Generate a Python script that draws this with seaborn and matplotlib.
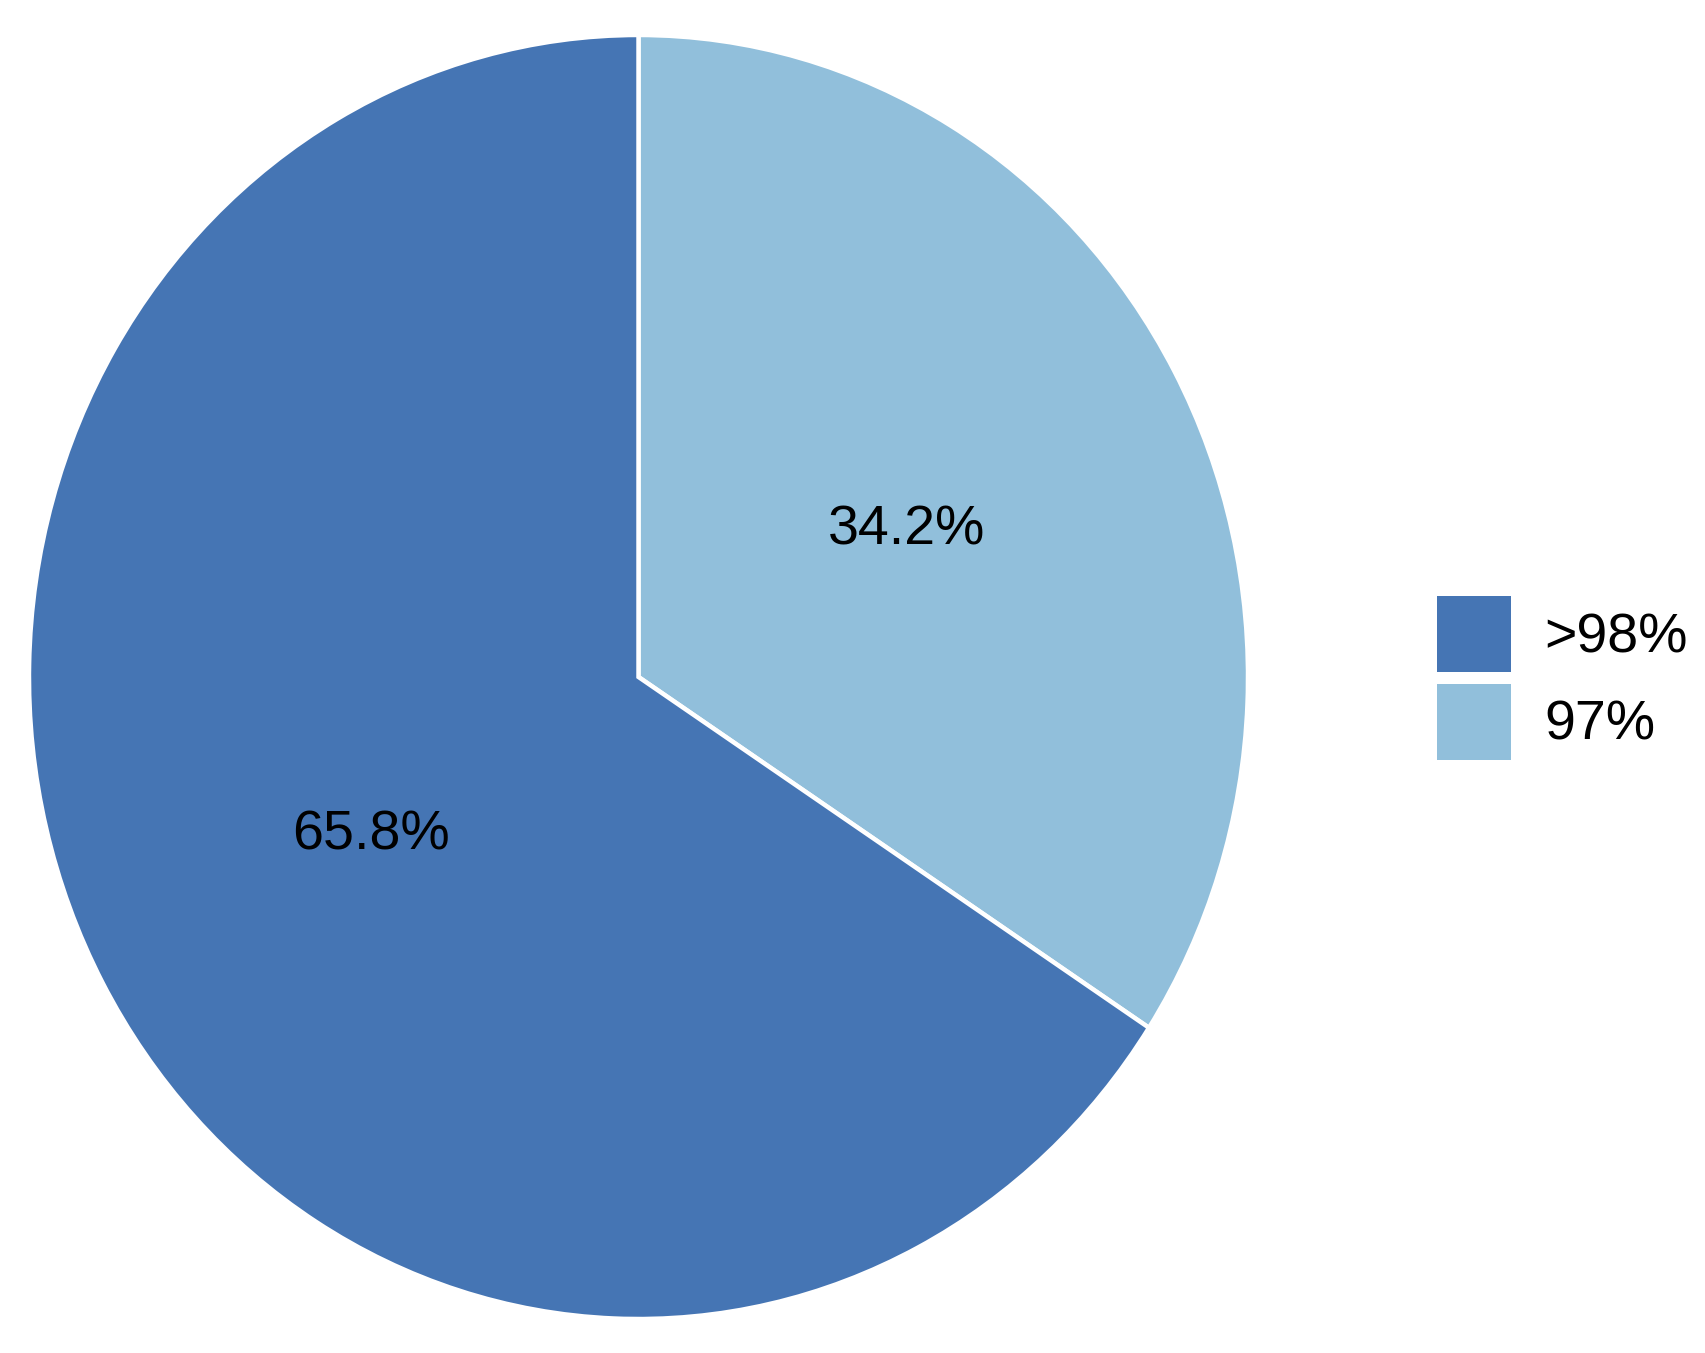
import seaborn as sns
import matplotlib.pyplot as plt
from matplotlib.patches import Patch

# share of samples by purity group
groups = [">98%", "97%"]
shares = [65.8, 34.2]
palette = ["#4575B4", "#91BFDB"]

sns.set_theme(style="white")
plt.rcParams['font.family'] = ['Liberation Sans', 'DejaVu Sans']
plt.rcParams['text.color'] = 'black'

W, H = 1706, 1353
fig = plt.figure(figsize=(W / 100, H / 100), dpi=100)

# pie bounding box (pixels) -- ellipse, like an unfixed coord_polar
left, right, top, bottom = 29, 1248, 35, 1319
ax = fig.add_axes([left / W, 1 - bottom / H, (right - left) / W, (bottom - top) / H])

wedges, texts, autotexts = ax.pie(
    shares[::-1], colors=palette[::-1], startangle=90, counterclock=False,
    autopct='%.1f%%', pctdistance=0.5,
    wedgeprops=dict(edgecolor='white', linewidth=3.2),
    textprops=dict(fontsize=40, color='black'))
for t in autotexts:
    t.set_va('center_baseline')
ax.set_aspect('auto')
ax.set_xlim(-1, 1)
ax.set_ylim(-1, 1)
ax.axis('off')

handles = [Patch(facecolor=c, edgecolor='none') for c in palette]
fig.legend(handles, groups, loc='center left', bbox_to_anchor=(1437 / W, 1 - 678 / H),
           frameon=False, fontsize=40, handlelength=1.33, handleheight=1.75,
           handletextpad=0.6, labelspacing=0.2, borderpad=0, borderaxespad=0)

fig.savefig('out.png', dpi=100, facecolor='white')
